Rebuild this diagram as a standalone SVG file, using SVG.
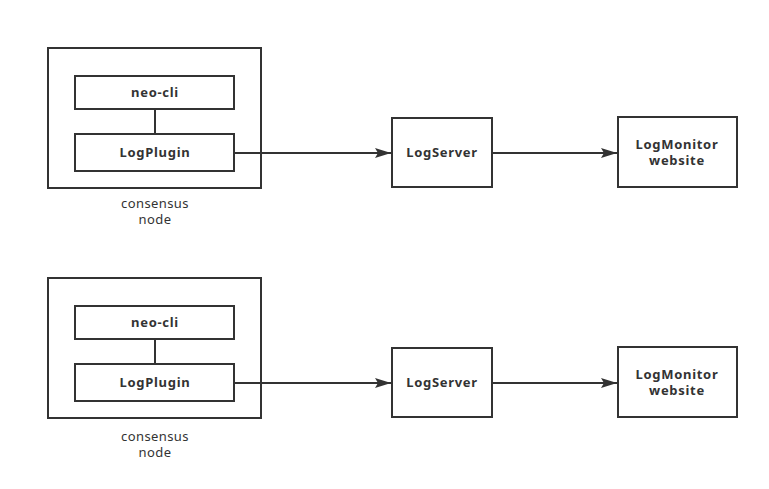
<svg xmlns="http://www.w3.org/2000/svg" width="769" height="489" viewBox="0 0 769 489">
<defs>
<marker id="arr" markerWidth="16" markerHeight="10" refX="16" refY="5" orient="auto" markerUnits="userSpaceOnUse">
<path d="M0,0 L16,5 L0,10 L3,5 Z" fill="#333"/>
</marker>
<style>
rect{fill:#fff;stroke:#333;stroke-width:2}
.c{stroke:#333;stroke-width:2;fill:none}
.t{font-family:"Noto Sans","Open Sans",sans-serif;font-weight:bold;font-size:13px;letter-spacing:0.7px;fill:#333;text-anchor:middle}
.l{font-family:"Noto Sans","Open Sans",sans-serif;font-size:13px;letter-spacing:0.4px;fill:#333;text-anchor:middle}
</style>
</defs>
<rect x="0" y="0" width="769" height="489" style="fill:#fff;stroke:none"/>
<g id="consensus1">
<rect x="48" y="48" width="213" height="140"/>
<text class="l" x="155" y="208">consensus</text>
<text class="l" x="155" y="224">node</text>
</g>
<g id="neocli1"><rect x="75" y="76" width="159" height="33"/><text class="t" x="155" y="97">neo-cli</text></g>
<g id="logplugin1"><rect x="75" y="134" width="159" height="37"/><text class="t" x="155" y="157">LogPlugin</text></g>
<g id="logserver1"><rect x="392" y="118" width="100" height="69"/><text class="t" x="442" y="157">LogServer</text></g>
<g id="logmonitor1"><rect x="618" y="117" width="119" height="70"/><text class="t" x="677" y="149">LogMonitor</text><text class="t" x="677" y="165">website</text></g>
<g id="consensus2">
<rect x="48" y="278" width="213" height="140"/>
<text class="l" x="155" y="441">consensus</text>
<text class="l" x="155" y="457">node</text>
</g>
<g id="neocli2"><rect x="75" y="306" width="159" height="33"/><text class="t" x="155" y="327">neo-cli</text></g>
<g id="logplugin2"><rect x="75" y="364" width="159" height="37"/><text class="t" x="155" y="387">LogPlugin</text></g>
<g id="logserver2"><rect x="392" y="348" width="100" height="69"/><text class="t" x="442" y="387">LogServer</text></g>
<g id="logmonitor2"><rect x="618" y="347" width="119" height="70"/><text class="t" x="677" y="379">LogMonitor</text><text class="t" x="677" y="395">website</text></g>
<g id="connectors">
<line class="c" x1="155" y1="110" x2="155" y2="133"/>
<line class="c" x1="235" y1="153" x2="391" y2="153" marker-end="url(#arr)"/>
<line class="c" x1="493" y1="153" x2="617" y2="153" marker-end="url(#arr)"/>
<line class="c" x1="155" y1="340" x2="155" y2="363"/>
<line class="c" x1="235" y1="383" x2="391" y2="383" marker-end="url(#arr)"/>
<line class="c" x1="493" y1="383" x2="617" y2="383" marker-end="url(#arr)"/>
</g>
</svg>
